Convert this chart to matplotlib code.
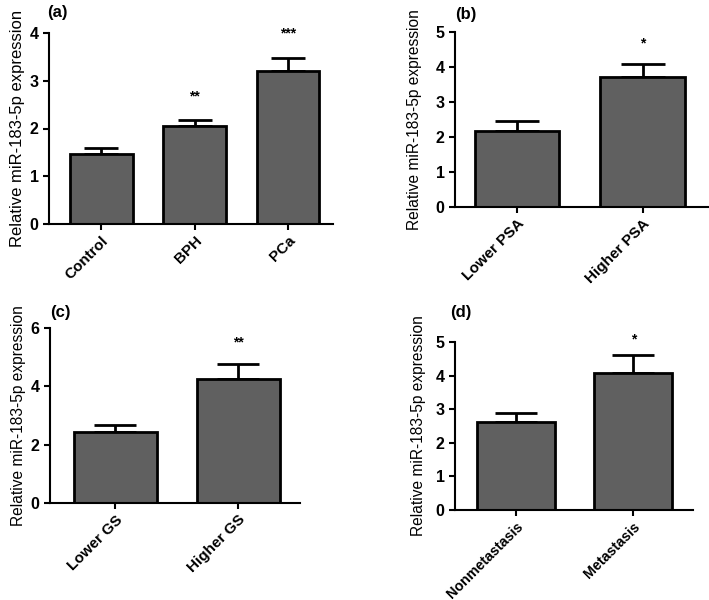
import matplotlib
matplotlib.use("Agg")
import matplotlib.pyplot as plt

plt.rcParams['font.family'] = ['Liberation Sans', 'DejaVu Sans']

# panel data: categories, means, upper error (SEM), significance marks
cats_a = ['Control', 'BPH', 'PCa']
vals_a = [1.47, 2.05, 3.20]
errs_a = [0.13, 0.12, 0.28]
stars_a = ['', '**', '***']

cats_b = ['Lower PSA', 'Higher PSA']
vals_b = [2.17, 3.72]
errs_b = [0.28, 0.36]
stars_b = ['', '*']

cats_c = ['Lower GS', 'Higher GS']
vals_c = [2.45, 4.25]
errs_c = [0.23, 0.50]
stars_c = ['', '**']

cats_d = ['Nonmetastasis', 'Metastasis']
vals_d = [2.63, 4.07]
errs_d = [0.27, 0.55]
stars_d = ['', '*']

ylabel = 'Relative miR-183-5p expression'


def draw_panel(ax, cats, vals, errs, stars, ymax, ystep, xlim, capsize, star_gap,
               ylab_size, ylab_pad, xlab_size=11):
    x = list(range(len(cats)))
    ax.bar(x, vals, width=0.67, color='#606060', edgecolor='black', linewidth=2.0, zorder=2)
    ax.errorbar(x, vals, yerr=[[0] * len(errs), errs], fmt='none', ecolor='black',
                elinewidth=2.0, capsize=capsize, capthick=2.0, zorder=1)
    for xi, v, e, s in zip(x, vals, errs, stars):
        if s:
            ax.text(xi, v + e + star_gap, s, ha='center', va='center',
                    fontsize=10, fontweight='bold')
    ax.set_xlim(*xlim)
    ax.set_ylim(0, ymax)
    ax.set_yticks([i * ystep for i in range(int(ymax / ystep) + 1)])
    ax.set_xticks(x)
    ax.set_xticklabels(cats, rotation=45, ha='right', rotation_mode='anchor',
                       fontsize=xlab_size, fontweight='bold')
    for lab in ax.get_yticklabels():
        lab.set_fontweight('bold')
        lab.set_fontsize(11.5)
    ax.spines['top'].set_visible(False)
    ax.spines['right'].set_visible(False)
    ax.spines['left'].set_linewidth(1.5)
    ax.spines['bottom'].set_linewidth(1.5)
    ax.tick_params(axis='both', width=1.5, length=4, direction='out')
    ax.tick_params(axis='x', pad=3)
    ax.set_ylabel(ylabel, fontsize=ylab_size, labelpad=ylab_pad)


fig = plt.figure(figsize=(7.09, 6.00), dpi=100)
W, H = 709.0, 600.0


def add_axes(x0, x1, ytop, ybot):
    return fig.add_axes([x0 / W, 1 - ybot / H, (x1 - x0) / W, (ybot - ytop) / H])


ax_a = add_axes(49, 333, 33, 224)
draw_panel(ax_a, cats_a, vals_a, errs_a, stars_a, 4, 1, (-0.56, 2.48), 12, 0.5, 12, 3)
ax_b = add_axes(455, 708, 32, 207)
draw_panel(ax_b, cats_b, vals_b, errs_b, stars_b, 5, 1, (-0.49, 1.52), 16, 0.6, 11.2, 10)
ax_c = add_axes(50, 300, 328, 503)
draw_panel(ax_c, cats_c, vals_c, errs_c, stars_c, 6, 2, (-0.53, 1.5), 15, 0.75, 11.2, 3)
ax_d = add_axes(455, 693, 342, 510)
draw_panel(ax_d, cats_d, vals_d, errs_d, stars_d, 5, 1, (-0.52, 1.51), 15, 0.45, 11.2, 7,
           xlab_size=10.3)

for lab, px, py in [('(a)', 47, 12), ('(b)', 455, 15), ('(c)', 50, 312), ('(d)', 450, 313)]:
    fig.text(px / W, 1 - py / H, lab, fontsize=12, fontweight='bold', ha='left', va='center')

fig.savefig('out.png', dpi=100)
